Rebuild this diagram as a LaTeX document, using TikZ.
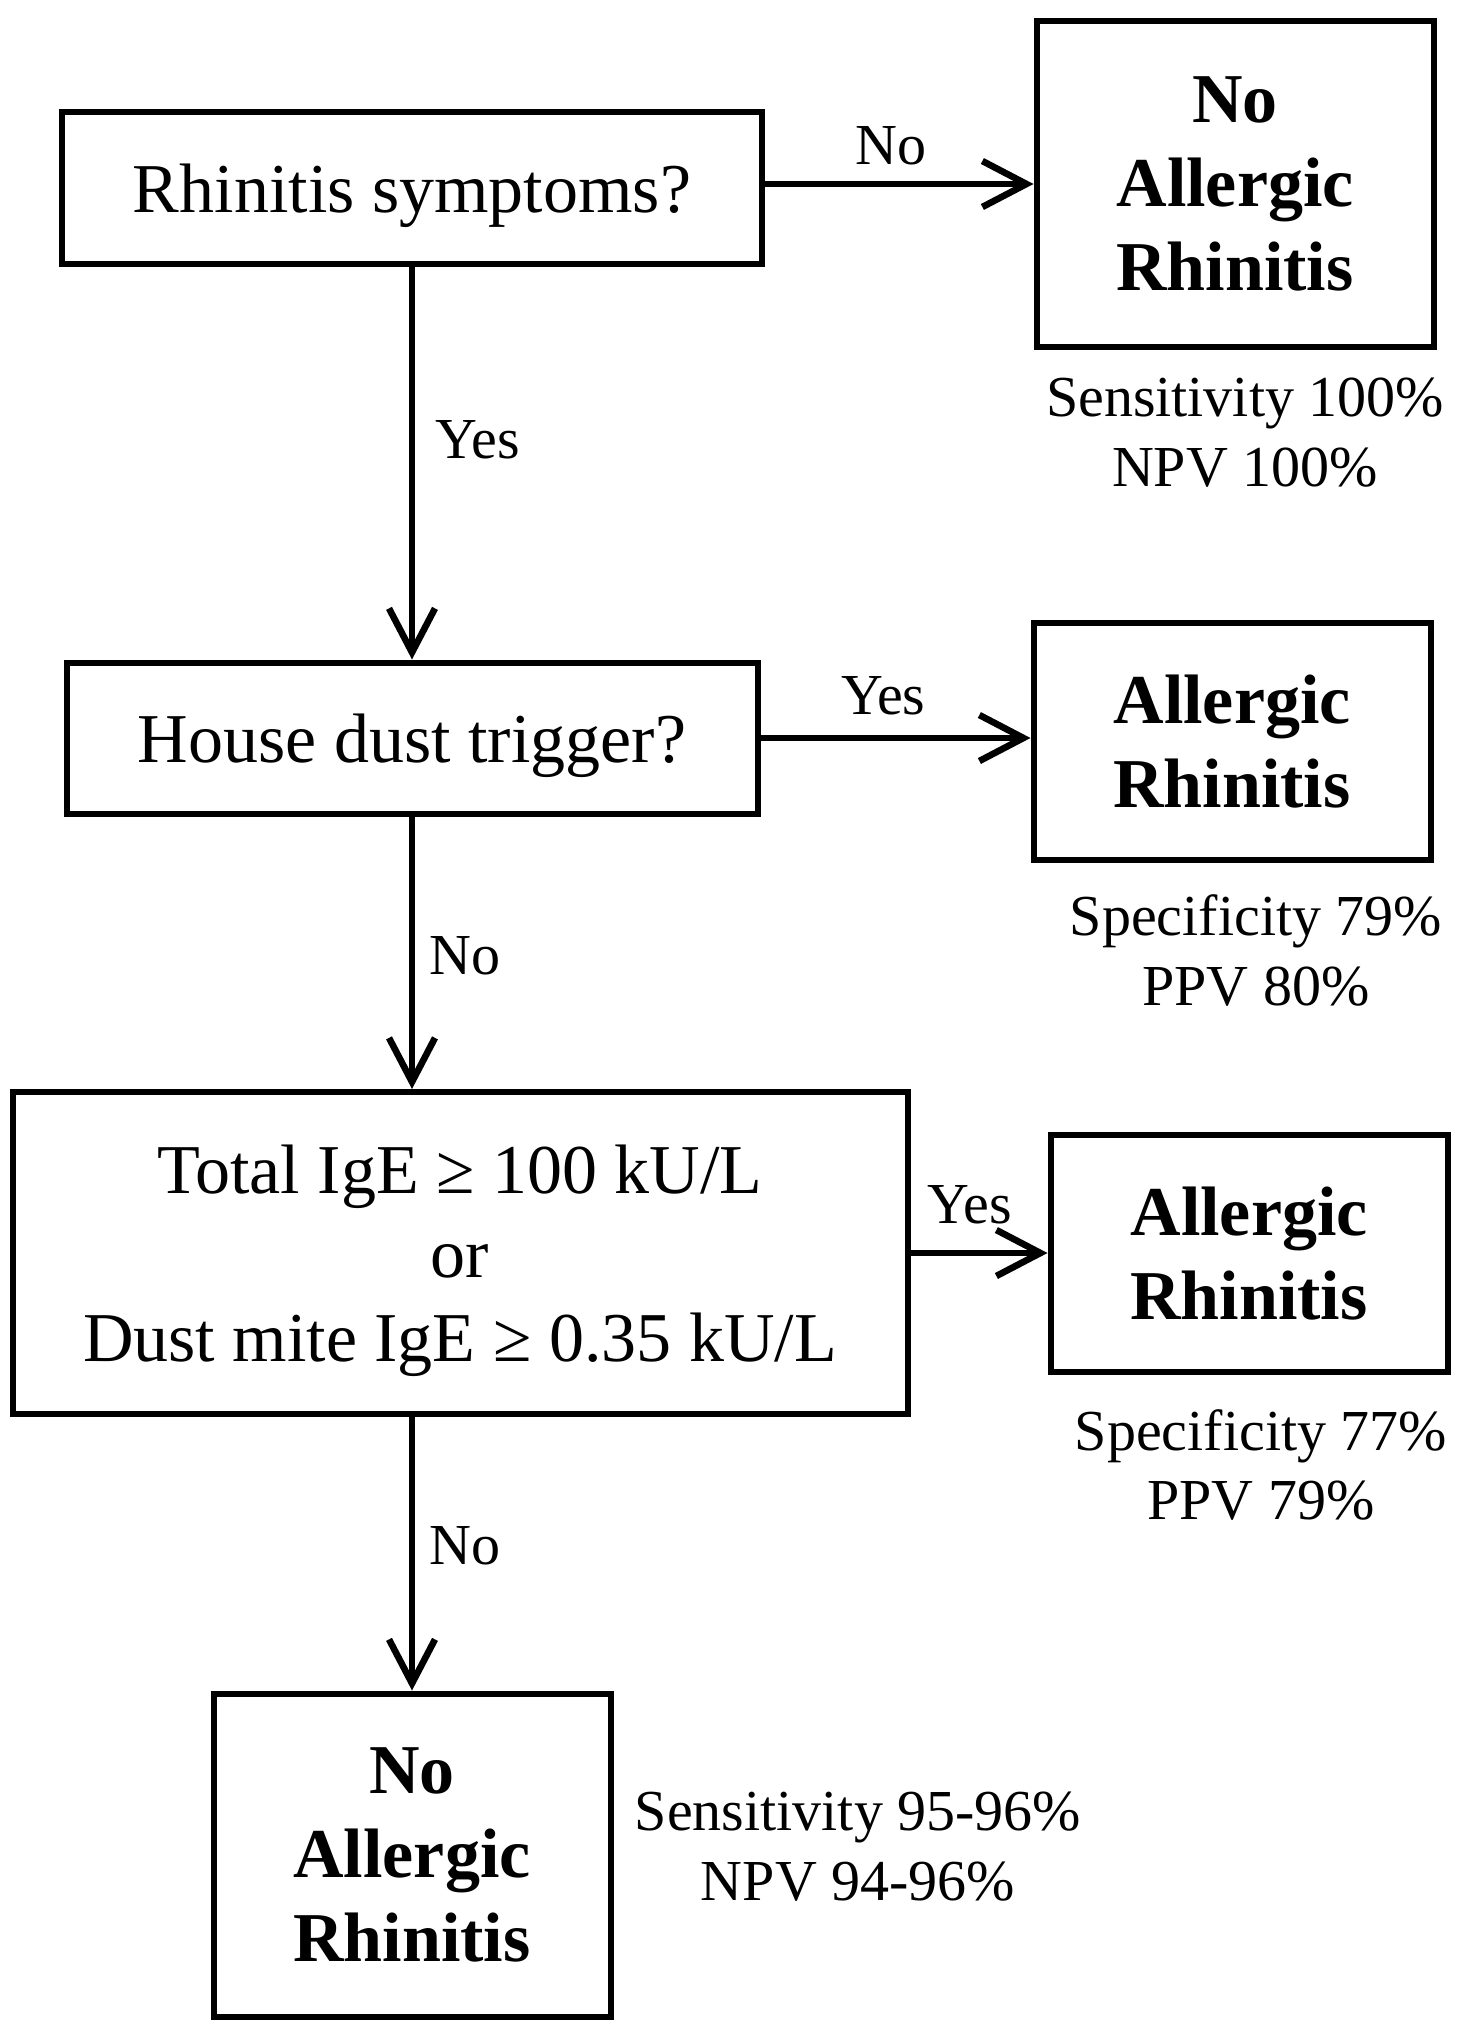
\documentclass[tikz,border=0pt]{standalone}
\usepackage{fontspec}
\setmainfont{Liberation Serif}
\usetikzlibrary{arrows.meta}

\begin{document}
\begin{tikzpicture}[x=0.5pt,y=-0.5pt,
	question/.style={draw,line width=3pt,inner sep=0pt,text depth=0pt,align=center,font=\fontsize{35}{42}\selectfont},
	outcome/.style={question,font=\fontsize{35}{42}\selectfont\bfseries,minimum width=198.5pt},
	stats/.style={align=center,inner sep=0pt,font=\fontsize{29}{35}\selectfont},
	answer/.style={inner sep=0pt,font=\fontsize{29}{35}\selectfont},
	arr/.style={line width=3.3pt,-{Straight Barb[length=22pt,width=23pt]}}]
	\useasboundingbox (0,0) rectangle (1469,2040);
	% questions
		\node[question,minimum width=350pt,minimum height=76pt] (rhin) at (412,188) {Rhinitis symptoms?};
		\node[question,minimum width=345.5pt,minimum height=75.5pt] (dust) at (412,738) {House dust trigger?};
		\node[question,minimum width=447.5pt,minimum height=161pt] (ige) at (460,1253) {Total IgE ≥ 100 kU/L\\or\\Dust mite IgE ≥ 0.35 kU/L};
	% outcomes
		\node[outcome,minimum height=163pt] (noar1) at (1235,184) {No\\Allergic\\Rhinitis};
		\node[outcome,minimum height=118.5pt] (ar2) at (1232,741) {Allergic\\Rhinitis};
		\node[outcome,minimum height=118.5pt] (ar3) at (1249,1253) {Allergic\\Rhinitis};
		\node[outcome,minimum height=161.5pt] (noar4) at (412,1855) {No\\Allergic\\Rhinitis};
	% test values
		\node[stats] (stat1) at (1245,433) {Sensitivity 100\%\\NPV 100\%};
		\node[stats] (stat2) at (1256,951) {Specificity 79\%\\PPV 80\%};
		\node[stats] (stat3) at (1261,1465) {Specificity 77\%\\PPV 79\%};
		\node[stats] (stat4) at (858,1847) {Sensitivity 95-96\%\\NPV 94-96\%};
	% yes / no branches
		\draw[arr] (noar1.west -| rhin.east) -- node[answer,pos=0.47,above=8pt] {No} (noar1.west);
		\draw[arr] (rhin) -- node[answer,pos=0.44,right=10pt] {Yes} (dust);
		\draw[arr] (dust.east) -- node[answer,pos=0.455,above=10pt] {Yes} (dust.east -| ar2.west);
		\draw[arr] (dust.south) -- node[answer,pos=0.51,right=7pt] {No} (dust.south |- ige.north);
		\draw[arr] (ige.east) -- node[answer,pos=0.43,above=13pt] {Yes} (ige.east -| ar3.west);
		\draw[arr] (noar4.north |- ige.south) -- node[answer,pos=0.47,right=7pt] {No} (noar4.north);
\end{tikzpicture}
\end{document}
